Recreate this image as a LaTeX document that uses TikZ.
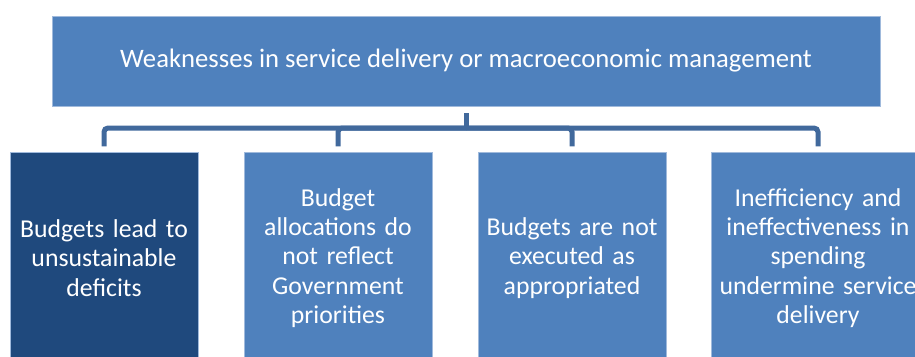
\documentclass[tikz,border=0pt]{standalone}
\usepackage{fontspec}
\setmainfont{Carlito}
\usetikzlibrary{calc}

\definecolor{boxblue}{RGB}{79,129,189}
\definecolor{darkblue}{RGB}{31,73,125}
\definecolor{linkblue}{RGB}{65,105,156}
\definecolor{edgeblue}{RGB}{160,186,220}

\tikzset{
  topbox/.style={rectangle,fill=boxblue,draw=edgeblue,line width=0.5pt,text=white,
    minimum width=828*0.75pt,minimum height=90*0.75pt,inner sep=0pt,align=center,
    font=\fontsize{20}{22}\selectfont},
  subbox/.style={rectangle,fill=boxblue,draw=edgeblue,line width=0.5pt,text=white,
    text width=#1*0.75pt,minimum height=212*0.75pt,inner sep=0pt,align=center,
    font=\fontsize{19.3}{21.9}\selectfont},
  subbox/.default=188,
  link/.style={draw=linkblue,line width=3.75pt,rounded corners=3pt}
}

\begin{document}
\begin{tikzpicture}[x=0.75pt,y=-0.75pt]
  \useasboundingbox (0,0) rectangle (915,357);
  \node[topbox] (top) at (466,61) {Weaknesses in service delivery or macroeconomic management};
  \node[subbox,fill=darkblue] (b1) at (104,258) {Budgets lead to\\unsustainable\\deficits};
  \node[subbox] (b2) at (338,258) {Budget\\allocations do\\not reflect\\Government\\priorities};
  \node[subbox] (b3) at (572,258) {Budgets are not\\executed as\\appropriated};
  \node[subbox=214] (b4) at (818,258) {Inefficiency and\\ineffectiveness in\\spending\\undermine service\\delivery};
  \coordinate (hub) at (466,128);
  % links from the top box to the four boxes
  \draw[link,shorten <=5pt] (top.south) -- (hub);
  \foreach \b in {b1,b2,b3,b4}
    \draw[link,shorten >=4pt] (hub) -| (\b.north);
\end{tikzpicture}
\end{document}
